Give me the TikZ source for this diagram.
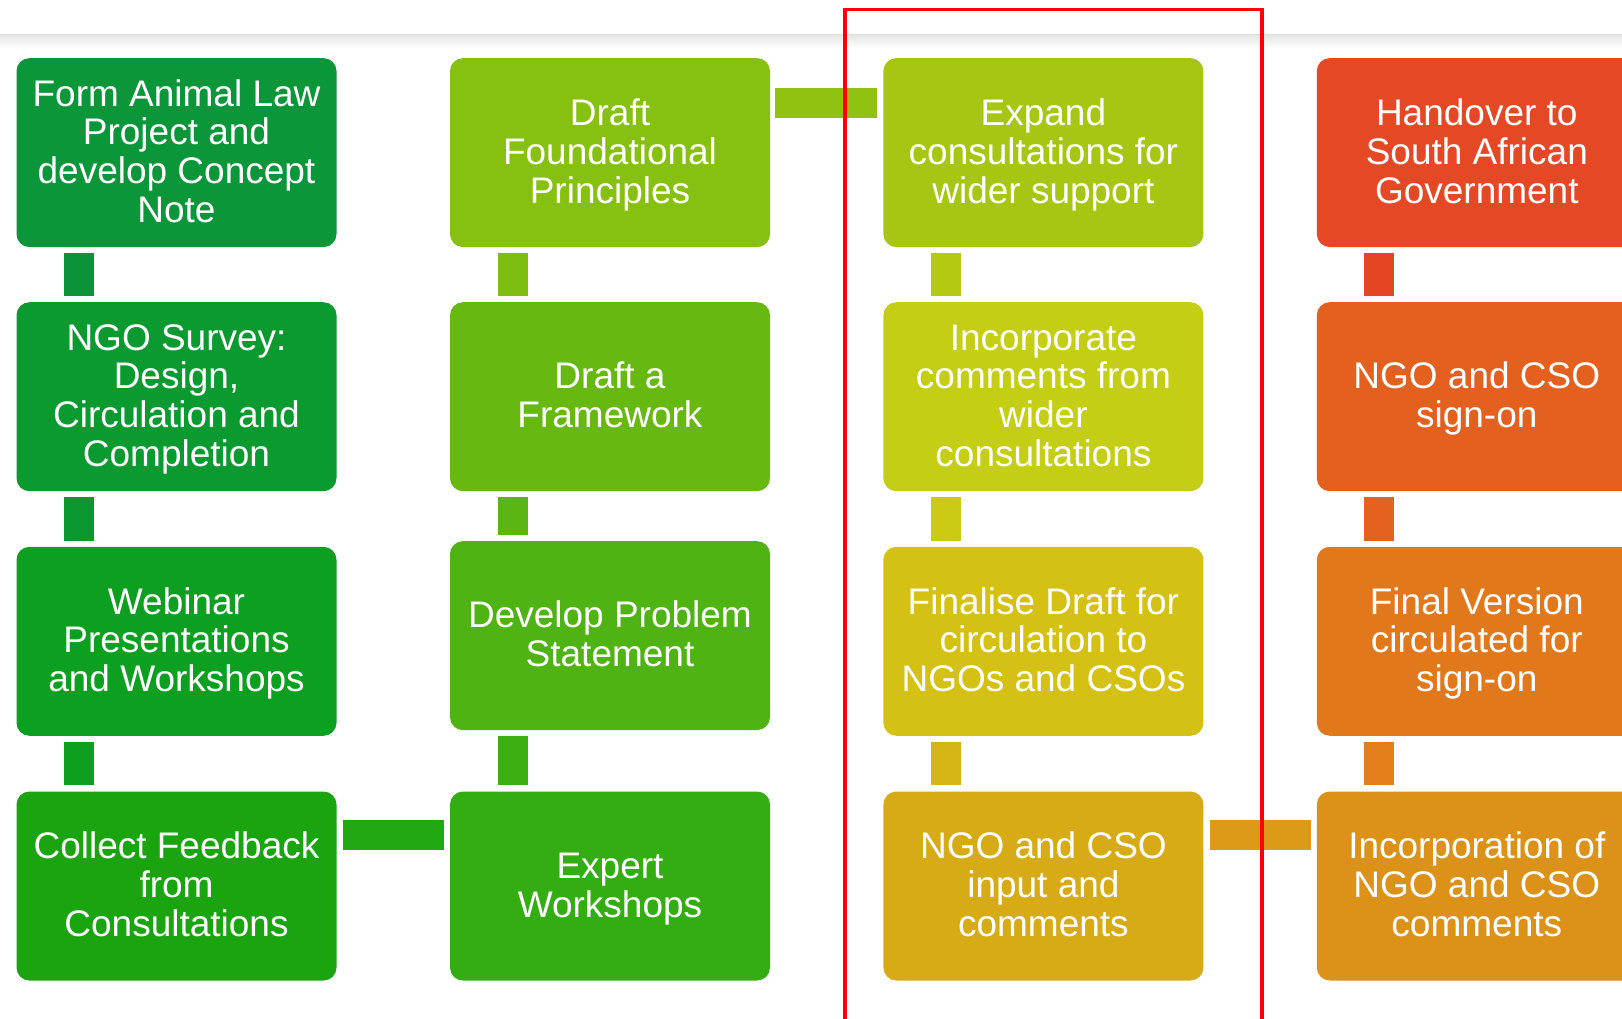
\documentclass[tikz,border=0pt]{standalone}
\usepackage{fontspec}
\setmainfont{Liberation Sans}
\newcommand{\ts}{\rule{0pt}{32pt}}
\newcommand{\bs}{\rule[-8.8pt]{0pt}{8.8pt}}
\definecolor{aA}{HTML}{0B963A}
\definecolor{aB}{HTML}{0A9A30}
\definecolor{aC}{HTML}{0D9F20}
\definecolor{aD}{HTML}{1AA510}
\definecolor{bA}{HTML}{86C011}
\definecolor{bB}{HTML}{67B912}
\definecolor{bC}{HTML}{4EB313}
\definecolor{bD}{HTML}{33AD12}
\definecolor{cA}{HTML}{A6C613}
\definecolor{cB}{HTML}{C3CE14}
\definecolor{cC}{HTML}{D4C114}
\definecolor{cD}{HTML}{D6AB16}
\definecolor{dA}{HTML}{E44825}
\definecolor{dB}{HTML}{E4601F}
\definecolor{dC}{HTML}{E2781C}
\definecolor{dD}{HTML}{DC9119}
\definecolor{ka1}{HTML}{0B9339}
\definecolor{ka2}{HTML}{0B9830}
\definecolor{ka3}{HTML}{0E9F1E}
\definecolor{kb1}{HTML}{7DBE11}
\definecolor{kb2}{HTML}{5BB614}
\definecolor{kb3}{HTML}{3DAF12}
\definecolor{kc1}{HTML}{B3C912}
\definecolor{kc2}{HTML}{CBCB15}
\definecolor{kc3}{HTML}{D6B516}
\definecolor{kd1}{HTML}{E44623}
\definecolor{kd2}{HTML}{E4621F}
\definecolor{kd3}{HTML}{E27F1B}
\definecolor{khtop}{HTML}{92C211}
\definecolor{khbl}{HTML}{22A812}
\definecolor{khbr}{HTML}{DC9A18}
\definecolor{redframe}{HTML}{FF0000}
\begin{document}
\begin{tikzpicture}[x=1pt,y=-1pt,
  stepbox/.style={rectangle, rounded corners=13pt, minimum width=320pt, minimum height=189pt,
    inner sep=0pt, text=white, align=center, font=\fontsize{37}{38.8}\selectfont},
  conn/.style={line width=30pt, line cap=butt}]
\useasboundingbox (0,0) rectangle (1622,1018);
\clip (0,0) rectangle (1622,1018);
\fill[white] (0,0) rectangle (1622,1018);
% top separator with soft shadow
\shade[top color=black!10, bottom color=white] (0,35) rectangle (1622,48);
\draw[black!12, line width=1.2pt] (0,34.5) -- (1622,34.5);
% column 1
\node[stepbox, fill=aA] (a1) at (176.5,152.6) {\ts Form Animal Law\\Project and\\develop Concept\\Note\bs};
\node[stepbox, fill=aB] (a2) at (176.5,396.7) {\ts NGO Survey:\\Design,\\Circulation and\\Completion\bs};
\node[stepbox, fill=aC] (a3) at (176.5,641.3) {\ts Webinar\\Presentations\\and Workshops\bs};
\node[stepbox, fill=aD] (a4) at (176.5,886) {\ts Collect Feedback\\from\\Consultations\bs};
% column 2
\node[stepbox, fill=bA] (b1) at (610,152.6) {\ts Draft\\Foundational\\Principles\bs};
\node[stepbox, fill=bB] (b2) at (610,396.7) {\ts Draft a\\Framework\bs};
\node[stepbox, fill=bC] (b3) at (610,635.6) {\ts Develop Problem\\Statement\bs};
\node[stepbox, fill=bD] (b4) at (610,886) {\ts Expert\\Workshops\bs};
% column 3
\node[stepbox, fill=cA] (c1) at (1043.4,152.6) {\ts Expand\\consultations for\\wider support\bs};
\node[stepbox, fill=cB] (c2) at (1043.4,396.7) {\ts Incorporate\\comments from\\wider\\consultations\bs};
\node[stepbox, fill=cC] (c3) at (1043.4,641.3) {\ts Finalise Draft for\\circulation to\\NGOs and CSOs\bs};
\node[stepbox, fill=cD] (c4) at (1043.4,886) {\ts NGO and CSO\\input and\\comments\bs};
% column 4
\node[stepbox, fill=dA] (d1) at (1476.8,152.6) {\ts Handover to\\South African\\Government\bs};
\node[stepbox, fill=dB] (d2) at (1476.8,396.7) {\ts NGO and CSO\\sign-on\bs};
\node[stepbox, fill=dC] (d3) at (1476.8,641.3) {\ts Final Version\\circulated for\\sign-on\bs};
\node[stepbox, fill=dD] (d4) at (1476.8,886) {\ts Incorporation of\\NGO and CSO\\comments\bs};
% vertical connectors
\foreach \c/\k in {a/ka,b/kb,c/kc,d/kd}{
  \draw[conn, \k1] ([xshift=-97.4pt,yshift=-6pt]\c1.south) -- ([xshift=-97.4pt,yshift=6pt]\c2.north);
  \draw[conn, \k2] ([xshift=-97.4pt,yshift=-6pt]\c2.south) -- ([xshift=-97.4pt,yshift=6pt]\c3.north);
  \draw[conn, \k3] ([xshift=-97.4pt,yshift=-6pt]\c3.south) -- ([xshift=-97.4pt,yshift=6pt]\c4.north);
}
% horizontal connectors
\draw[conn, khtop] ([xshift=5pt,yshift=50pt]b1.east) -- ([xshift=-6pt,yshift=50pt]c1.west);
\draw[conn, khbl] ([xshift=6pt,yshift=51pt]a4.east) -- ([xshift=-6pt,yshift=51pt]b4.west);
\draw[conn, khbr] ([xshift=6pt,yshift=51pt]c4.east) -- ([xshift=-6pt,yshift=51pt]d4.west);
% red highlight frame
\draw[redframe, line width=3.5pt] (845,1030) -- (845,9.5) -- (1262,9.5) -- (1262,1030);
\end{tikzpicture}
\end{document}
